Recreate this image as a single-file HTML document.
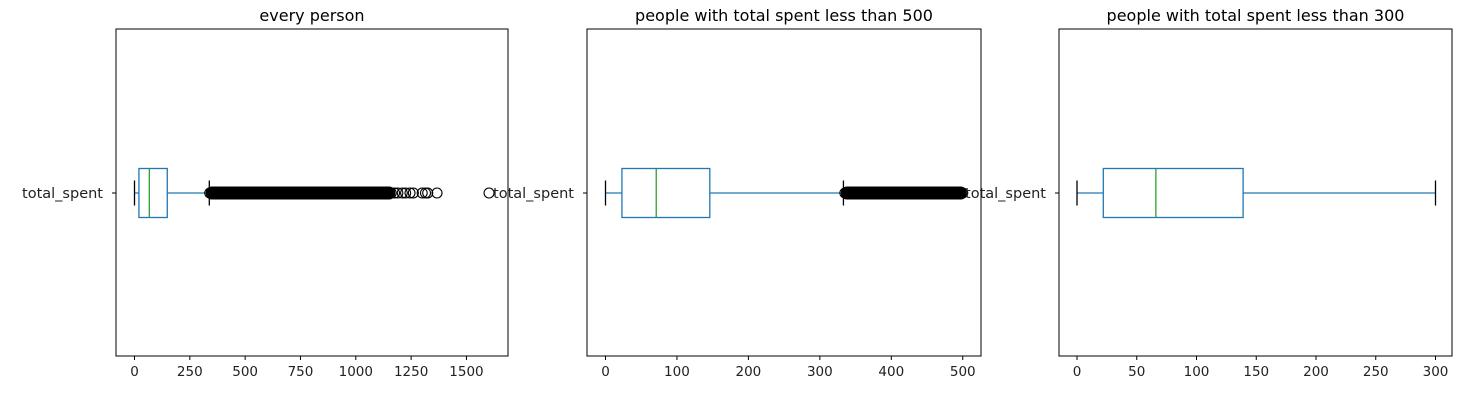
<!DOCTYPE html>
<html><head><meta charset="utf-8">
<style>
body{margin:0;background:#fff;}
svg{display:block;font-family:"DejaVu Sans","Liberation Sans",sans-serif;}
</style></head>
<body>
<svg id="fig" width="1475" height="402"></svg>
<script>
// panel data
const titles = ["every person","people with total spent less than 500","people with total spent less than 300"];
const q1s = [20, 23, 22];
const medians = [67, 71, 66];
const q3s = [148, 146, 139];
const whiskLo = [0, 0, 0];
const whiskHi = [338, 333, 300];
const ticks1 = [0,250,500,750,1000,1250,1500];
const ticks2 = [0,100,200,300,400,500];
const ticks3 = [0,50,100,150,200,250,300];
const outliers1 = [340,350,360,375,390,410,430,450,470,500,530,560,590,620,650,680,710,740,770,800,830,860,890,920,950,980,1010,1040,1070,1100,1130,1150,1160,1175,1190,1210,1225,1245,1260,1300,1315,1325,1367,1602];
const outliers2 = [335,340,350,360,370,380,390,400,410,420,430,440,450,460,470,480,490,495,500];
const outliers3 = [];

const panels = [
  {left:116,right:508,x0:134.5,scale:0.2213,ticks:ticks1,outl:outliers1},
  {left:587,right:981,x0:605.5,scale:0.7145,ticks:ticks2,outl:outliers2},
  {left:1059,right:1452,x0:1077,scale:1.195,ticks:ticks3,outl:outliers3}
];
const axTop=29,axBottom=356,cy=193,bh=24.5;
const svg=document.getElementById('fig');
const NS='http://www.w3.org/2000/svg';
function mk(tag,attrs,parent){const e=document.createElementNS(NS,tag);for(const k in attrs)e.setAttribute(k,attrs[k]);(parent||svg).appendChild(e);return e;}

panels.forEach((p,i)=>{
  const g=mk('g',{});
  
  
  const X=v=>p.x0+v*p.scale;
  const frame=mk('rect',{x:p.left,y:axTop,width:p.right-p.left,height:axBottom-axTop,fill:'none',stroke:'#000','stroke-width':1},g);
  
  
  const t=mk('text',{x:(p.left+p.right)/2,y:21,'text-anchor':'middle','font-size':16,fill:'#000'},g);
  t.textContent=titles[i];
  
  
  mk('line',{x1:p.left-4,x2:p.left,y1:cy,y2:cy,stroke:'#000'},g);
  const yl=mk('text',{x:p.left-13,y:cy+5,'text-anchor':'end','font-size':14.5,fill:'#222'},g);
  yl.textContent='total_spent';
  
  
  p.ticks.forEach(v=>{
    mk('line',{x1:X(v),x2:X(v),y1:axBottom,y2:axBottom+4,stroke:'#000'},g);
    const tl=mk('text',{x:X(v),y:axBottom+20,'text-anchor':'middle','font-size':13.5,fill:'#222'},g);
    tl.textContent=v;
    
    
  });
  const c='#1f77b4';
  mk('line',{x1:X(whiskLo[i]),x2:X(q1s[i]),y1:cy,y2:cy,stroke:c,'stroke-width':1.2},g);
  mk('line',{x1:X(q3s[i]),x2:X(whiskHi[i]),y1:cy,y2:cy,stroke:c,'stroke-width':1.2},g);
  const box=mk('rect',{x:X(q1s[i]),y:cy-bh,width:X(q3s[i])-X(q1s[i]),height:2*bh,fill:'none',stroke:c,'stroke-width':1.3},g);
  
  
  const med=mk('line',{x1:X(medians[i]),x2:X(medians[i]),y1:cy-bh,y2:cy+bh,stroke:'#2ca02c','stroke-width':1.3},g);
  
  
  [whiskLo[i],whiskHi[i]].forEach(v=>{
    const cap=mk('line',{x1:X(v),x2:X(v),y1:cy-12.5,y2:cy+12.5,stroke:'#000','stroke-width':1.3},g);
    
    
  });
  const dense=p.outl.filter(v=>v<=1160);
  if(dense.length){
    const lo=Math.min(...dense),hi=Math.max(...dense);
    const band=mk('rect',{x:X(lo)-4,y:cy-6.5,width:X(hi)-X(lo)+8,height:13,rx:6,fill:'#000'},g);
    
    
  }
  p.outl.forEach(v=>{
    const o=mk('circle',{cx:X(v),cy:cy,r:5,fill:'none',stroke:'#000','stroke-width':1.1},g);
    
    
  });
});
</script>
</body></html>
